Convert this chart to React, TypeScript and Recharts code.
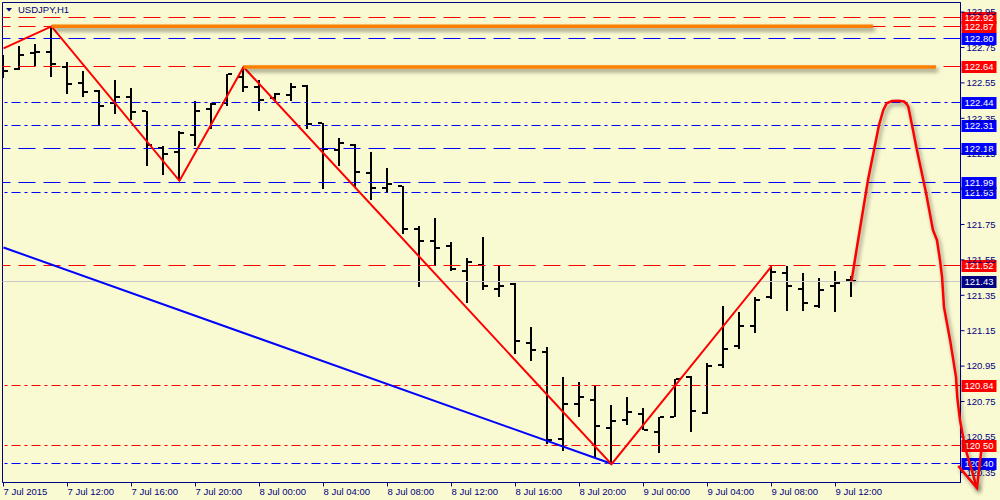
import React from 'react'
import { ComposedChart, Bar, Line, XAxis, YAxis, ReferenceLine, ReferenceArea } from 'recharts'

// hourly bars, 7 Jul 08:00 .. 9 Jul 13:00
const opens = [
  122.680, 122.630, 122.720, 122.727, 122.637, 122.549, 122.507, 122.436, 122.470, 122.392,
  122.185, 122.162, 122.257, 122.402, 122.436, 122.586, 122.524, 122.464, 122.479, 122.535,
  122.326, 122.172, 122.200, 122.040, 121.959, 121.965, 121.726, 121.654, 121.626, 121.490,
  121.524, 121.388, 121.415, 121.080, 121.027, 120.539, 120.735, 120.756, 120.603, 120.647,
  120.679, 120.580, 120.660, 120.891, 120.684, 120.957, 121.061, 121.174, 121.340, 121.475,
  121.385, 121.287, 121.400, 121.434,
]
const highs = [
  122.709, 122.760, 122.771, 122.869, 122.668, 122.618, 122.511, 122.568, 122.521, 122.394,
  122.195, 122.279, 122.449, 122.436, 122.601, 122.640, 122.564, 122.492, 122.549, 122.539,
  122.326, 122.238, 122.204, 122.159, 122.069, 121.965, 121.744, 121.786, 121.651, 121.560,
  121.679, 121.517, 121.419, 121.170, 121.057, 120.888, 120.860, 120.839, 120.731, 120.775,
  120.716, 120.665, 120.877, 120.895, 120.967, 121.291, 121.258, 121.343, 121.513, 121.513,
  121.475, 121.447, 121.485, 121.460,
]
const lows = [
  122.577, 122.625, 122.648, 122.586, 122.487, 122.473, 122.313, 122.375, 122.338, 122.083,
  122.027, 121.997, 122.196, 122.289, 122.417, 122.498, 122.392, 122.445, 122.449, 122.291,
  121.950, 122.078, 121.959, 121.886, 121.927, 121.696, 121.396, 121.517, 121.488, 121.306,
  121.381, 121.340, 121.018, 120.976, 120.509, 120.468, 120.665, 120.430, 120.396, 120.618,
  120.590, 120.458, 120.660, 120.575, 120.680, 120.939, 121.046, 121.136, 121.329, 121.264,
  121.264, 121.278, 121.253, 121.340,
]
const closes = [
  122.620, 122.709, 122.726, 122.656, 122.543, 122.501, 122.421, 122.468, 122.385, 122.200,
  122.149, 122.266, 122.392, 122.432, 122.600, 122.524, 122.455, 122.487, 122.526, 122.319,
  122.178, 122.210, 122.049, 121.956, 121.978, 121.724, 121.654, 121.620, 121.500, 121.538,
  121.400, 121.405, 121.089, 121.042, 120.534, 120.735, 120.775, 120.609, 120.641, 120.690,
  120.590, 120.665, 120.877, 120.699, 120.952, 121.046, 121.174, 121.325, 121.484, 121.400,
  121.306, 121.381, 121.419, 121.430,
]

const xTicks = [0, 4, 8, 12, 16, 20, 24, 28, 32, 36, 40, 44, 48, 52]
const xTickLabels = [
  '7 Jul 2015', '7 Jul 12:00', '7 Jul 16:00', '7 Jul 20:00', '8 Jul 00:00', '8 Jul 04:00', '8 Jul 08:00',
  '8 Jul 12:00', '8 Jul 16:00', '8 Jul 20:00', '9 Jul 00:00', '9 Jul 04:00', '9 Jul 08:00', '9 Jul 12:00',
]
const yTicks = [120.35, 120.55, 120.75, 120.95, 121.15, 121.35, 121.55, 121.75, 121.95, 122.15, 122.35, 122.55, 122.75, 122.95]

// zigzag swing points (bar index, price)
const zigzagBars = [0, 3, 11, 15, 38, 48]
const zigzagPrices = [122.745, 122.869, 121.997, 122.640, 120.396, 121.513]

// blue trend line
const trendBars = [0, 38]
const trendPrices = [121.620, 120.398]

// hand drawn projection curve and its arrow head
const projBars = [53, 53.33, 54.03, 54.72, 54.99, 55.2, 55.53, 55.93, 56.28, 56.45, 56.55, 57.09, 57.66, 58.09, 58.34, 58.53, 58.66, 58.78, 59.16, 59.53, 59.61, 59.78, 60.09, 60.84]
const projPrices = [121.43, 121.616, 122.001, 122.312, 122.397, 122.435, 122.448, 122.449, 122.445, 122.431, 122.416, 122.171, 121.928, 121.719, 121.662, 121.549, 121.453, 121.284, 121.098, 120.889, 120.775, 120.645, 120.493, 120.261]
const arrowBars = [59.67, 60.84, 61.14]
const arrowPrices = [120.386, 120.261, 120.493]

// thick orange levels
const orangeHighBars = [3, 54.34]
const orangeHighPrice = 122.87
const orangeLowBars = [15, 58.28]
const orangeLowPrice = 122.64

const levelPrices = [122.92, 122.87, 122.80, 122.64, 122.44, 122.31, 122.18, 121.99, 121.93, 121.52, 121.43, 120.84, 120.50, 120.40]
const levelKinds = ['redDash', 'redDash', 'blueDash', 'redDash', 'blueDot', 'blueDot', 'blueDash', 'blueDash', 'blueDot', 'redDash', 'current', 'redDot', 'redDot', 'blueDot']

const NAVY = '#000080'
const BG = '#FAFAD2'
const FONT = '"Liberation Sans", Arial, sans-serif'
const X_DOMAIN = [-0.0625, 59.8125]
const Y_DOMAIN = [120.2924, 123.0042]

const kindStyle: Record<string, { stroke: string; dash?: string; tag: string }> = {
  redDash: { stroke: '#FF0000', dash: '17 8', tag: '#FF0000' },
  redDot: { stroke: '#FF0000', dash: '9 4 3 4', tag: '#FF0000' },
  blueDash: { stroke: '#0000FF', dash: '17 8', tag: '#0000FF' },
  blueDot: { stroke: '#0000FF', dash: '9 4 3 4', tag: '#0000FF' },
  current: { stroke: '#C8C8C8', tag: NAVY },
}

const bars = opens.map((o, i) => ({ i, open: o, high: highs[i], low: lows[i], close: closes[i] }))
const pts = (xs: number[], ys: number[]) => xs.map((i, k) => ({ i, p: ys[k] }))
const zigzag = pts(zigzagBars, zigzagPrices)
const trend = pts(trendBars, trendPrices)
const proj = pts(projBars, projPrices)
const arrow = pts(arrowBars, arrowPrices)
const orangeHigh = orangeHighBars.map((i) => ({ i, p: orangeHighPrice }))
const orangeLow = orangeLowBars.map((i) => ({ i, p: orangeLowPrice }))

function OhlcBar(props: any) {
  const { x, width, y, height, payload } = props
  if (x == null || !payload) return null
  const top = Math.min(y, y + height)
  const bottom = Math.max(y, y + height)
  const span = payload.high - payload.low
  const toY = (v: number) => (span > 0 ? top + ((payload.high - v) / span) * (bottom - top) : top)
  const cx = Math.round(x + width / 2)
  const yo = Math.round(toY(payload.open))
  const yc = Math.round(toY(payload.close))
  const t = Math.round(top)
  return (
    <g fill="#000">
      <rect x={cx - 1} y={t} width={2} height={Math.max(2, Math.round(bottom) - t)} />
      <rect x={cx - 5} y={yo - 1} width={4} height={2} />
      <rect x={cx + 1} y={yc - 1} width={4} height={2} />
    </g>
  )
}

// snap level lines to the pixel grid so they stay crisp, like the terminal draws them
function LevelLine(props: any) {
  const { x1, x2, y1, stroke, strokeDasharray } = props
  if (y1 == null) return null
  const y = Math.floor(y1) + 0.5
  return <line x1={x1} x2={x2} y1={y} y2={y} stroke={stroke} strokeDasharray={strokeDasharray} strokeWidth={1} fill="none" />
}

function XTick(props: any) {
  const { x, y, payload } = props
  const label = xTickLabels[xTicks.indexOf(payload.value)]
  return (
    <text x={x} y={y} dy="0.71em" textAnchor="start" fill={NAVY} fontSize={9.5} fontFamily={FONT}>
      {label}
    </text>
  )
}

function PriceTag(props: any) {
  const { viewBox, bg, value } = props
  if (!viewBox) return null
  const x = viewBox.x + viewBox.width + 1
  const y = Math.floor(viewBox.y)
  return (
    <g>
      <rect x={x} y={y - 5} width={35} height={12} fill={bg} />
      <text x={x + 3} y={y + 1} dy="0.36em" fill="#fff" fontSize={9.5} fontFamily={FONT}>
        {value.toFixed(2)}
      </text>
    </g>
  )
}

export default function App() {
  return (
    <div style={{ position: 'relative', width: 1000, height: 500, background: BG, fontFamily: FONT }}>
      <style>{`
        body { margin: 0; background: ${BG}; }
        .noclip, .noclip * { clip-path: none !important; }
        .shadow path { filter: drop-shadow(2px 3px 2px rgba(0,0,0,0.45)); }
      `}</style>
      <ComposedChart width={1000} height={500} data={bars} margin={{ top: 2.5, right: 0, bottom: 0, left: 2.5 }}>
        <XAxis
          dataKey="i"
          type="number"
          domain={X_DOMAIN}
          allowDataOverflow
          ticks={xTicks}
          interval={0}
          height={17.5}
          tickSize={4}
          tick={<XTick />}
          axisLine={{ stroke: NAVY }}
          tickLine={{ stroke: NAVY }}
        />
        <YAxis
          orientation="right"
          type="number"
          domain={Y_DOMAIN}
          allowDataOverflow
          ticks={yTicks}
          interval={0}
          width={39.5}
          tickSize={4}
          tickFormatter={(v: number) => v.toFixed(2)}
          tick={{ fill: NAVY, fontSize: 9.5, fontFamily: FONT }}
          axisLine={{ stroke: NAVY }}
          tickLine={{ stroke: NAVY }}
        />
        <ReferenceArea x1={X_DOMAIN[0]} x2={X_DOMAIN[1]} y1={Y_DOMAIN[0]} y2={Y_DOMAIN[1]} fill="none" stroke={NAVY} fillOpacity={0} />
        {levelPrices.map((p, k) => {
          const s = kindStyle[levelKinds[k]]
          return (
            <ReferenceLine
              key={p}
              y={p}
              stroke={s.stroke}
              strokeDasharray={s.dash}
              strokeWidth={1}
              shape={(lp: any) => <LevelLine {...lp} />}
              label={<PriceTag bg={s.tag} value={p} />}
            />
          )
        })}
        <Bar dataKey={(d: any) => [d.low, d.high]} barSize={10} shape={<OhlcBar />} isAnimationActive={false} />
        <Line data={trend} dataKey="p" type="linear" stroke="#0000FF" strokeWidth={2} dot={false} isAnimationActive={false} />
        <Line data={zigzag} dataKey="p" type="linear" stroke="#FF0000" strokeWidth={2} dot={false} isAnimationActive={false} />
        <Line data={orangeHigh} dataKey="p" className="shadow" type="linear" stroke="#FF8000" strokeWidth={3.5} dot={false} isAnimationActive={false} />
        <Line data={orangeLow} dataKey="p" className="shadow" type="linear" stroke="#FF8000" strokeWidth={3.5} dot={false} isAnimationActive={false} />
        <Line data={proj} dataKey="p" className="noclip shadow" type="linear" stroke="#FF0000" strokeWidth={2.5} dot={false} isAnimationActive={false} zIndex={2500} />
        <Line data={arrow} dataKey="p" className="noclip shadow" type="linear" stroke="#FF0000" strokeWidth={2.5} dot={false} isAnimationActive={false} zIndex={2500} />
      </ComposedChart>
      <div style={{ position: 'absolute', left: 0, top: 3, display: 'flex', alignItems: 'center', color: NAVY, fontSize: 9.5, lineHeight: '14px' }}>
        <svg width={18} height={14}>
          <polygon points="6,5 12,5 9,8.5" fill={NAVY} />
        </svg>
        <span>USDJPY,H1</span>
      </div>
    </div>
  )
}
